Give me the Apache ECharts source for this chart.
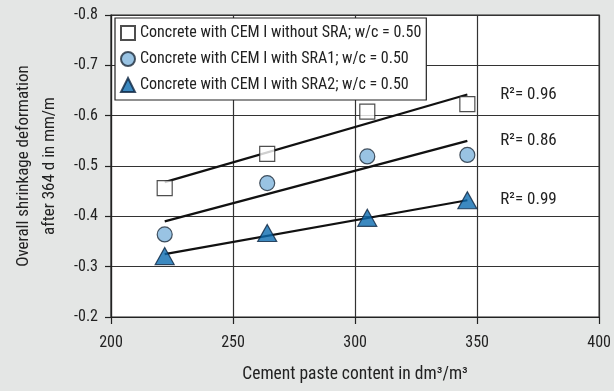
<!DOCTYPE html>
<html>
<head>
<meta charset="utf-8">
<script src="https://cdn.jsdelivr.net/npm/echarts@6/dist/echarts.min.js"></script>
<style>
html,body{margin:0;padding:0;background:#e4e6e5;}
#c{width:614px;height:391px;}
</style>
</head>
<body>
<div id="c"></div>
<script>
// Data
var cementPaste = [222, 264, 305, 346];
var noSRA = [-0.456, -0.524, -0.608, -0.623];
var sra1 = [-0.364, -0.466, -0.519, -0.522];
var sra2 = [-0.321, -0.367, -0.397, -0.432];
var trendX = [222, 346];
var trendNoSRA = [-0.468, -0.642];
var trendSRA1 = [-0.390, -0.550];
var trendSRA2 = [-0.325, -0.432];
var r2Labels = ['R\u00b2= 0.96', 'R\u00b2= 0.86', 'R\u00b2= 0.99'];
var seriesNames = [
  'Concrete with CEM I without SRA; w/c = 0.50',
  'Concrete with CEM I with SRA1; w/c = 0.50',
  'Concrete with CEM I with SRA2; w/c = 0.50'
];
var xTicks = {min: 200, max: 400, step: 50};
var yTicks = {min: -0.8, max: -0.2, step: 0.1};

var FONT = '"Roboto Condensed","DejaVu Sans Condensed",sans-serif';
function pairs(xs, ys){ return xs.map(function(x,i){ return [x, ys[i]]; }); }

function trend(ys, label){
  return {
    type: 'line', data: pairs(trendX, ys), symbol: 'none', silent: true,
    lineStyle: {color: '#111', width: 2.2}, z: 2,
    endLabel: {show: true, formatter: label, distance: 33, color: '#222',
      fontFamily: FONT, fontSize: 17}
  };
}

var chart = echarts.init(document.getElementById('c'));
chart.setOption({
  backgroundColor: '#e4e6e5',
  animation: false,
  textStyle: {fontFamily: FONT},
  grid: {left: 111, right: 12, top: 15, bottom: 74, show: true,
    backgroundColor: '#ffffff', borderColor: '#222', borderWidth: 1.2},
  legend: {
    orient: 'vertical', left: 115, top: 18,
    backgroundColor: '#ffffff', borderColor: '#222', borderWidth: 1.2,
    padding: [6, 5, 6, 5], itemGap: 8, itemWidth: 14, itemHeight: 14,
    textStyle: {fontFamily: FONT, fontSize: 16, color: '#222', lineHeight: 18},
    data: [
      {name: seriesNames[0], icon: 'rect'},
      {name: seriesNames[1], icon: 'circle'},
      {name: seriesNames[2], icon: 'triangle'}
    ]
  },
  xAxis: {
    type: 'value', min: xTicks.min, max: xTicks.max, interval: xTicks.step,
    name: 'Cement paste content in dm\u00b3/m\u00b3', nameLocation: 'middle', nameGap: 49,
    nameTextStyle: {fontFamily: FONT, fontSize: 17.5, color: '#222'},
    axisLine: {lineStyle: {color: '#222', width: 1.2}},
    axisTick: {show: true, length: 7, lineStyle: {color: '#222', width: 1.2}},
    axisLabel: {fontFamily: FONT, fontSize: 16, color: '#222', margin: 18},
    splitLine: {show: true, lineStyle: {color: '#333', width: 1.2}}
  },
  yAxis: {
    type: 'value', inverse: true, min: yTicks.min, max: yTicks.max, interval: yTicks.step,
    name: 'Overall shrinkage deformation\nafter 364 d in mm/m', nameLocation: 'middle', nameGap: 47,
    nameTextStyle: {fontFamily: FONT, fontSize: 17, color: '#222', lineHeight: 26},
    axisLine: {show: true, lineStyle: {color: '#222', width: 1.2}},
    axisTick: {show: true, length: 6, lineStyle: {color: '#222', width: 1.2}},
    axisLabel: {fontFamily: FONT, fontSize: 16, color: '#222', margin: 13,
      formatter: function(v){ return v.toFixed(1); }},
    splitLine: {show: true, lineStyle: {color: '#333', width: 1.2}}
  },
  series: [
    trend(trendNoSRA, r2Labels[0]),
    trend(trendSRA1, r2Labels[1]),
    trend(trendSRA2, r2Labels[2]),
    {type: 'scatter', name: seriesNames[0], data: pairs(cementPaste, noSRA), symbol: 'rect', symbolSize: 15, z: 5,
      itemStyle: {color: '#ffffff', borderColor: '#222', borderWidth: 1.2}},
    {type: 'scatter', name: seriesNames[1], data: pairs(cementPaste, sra1), symbol: 'circle', symbolSize: 15, z: 5,
      itemStyle: {color: '#80b4dc', borderColor: '#1d2a3a', borderWidth: 1.2}},
    {type: 'scatter', name: seriesNames[2], data: pairs(cementPaste, sra2), symbol: 'triangle', symbolSize: [19, 17], z: 5,
      itemStyle: {color: '#0b6bb0', borderColor: '#0d2440', borderWidth: 1.2}}
  ]
});
</script>
</body>
</html>
